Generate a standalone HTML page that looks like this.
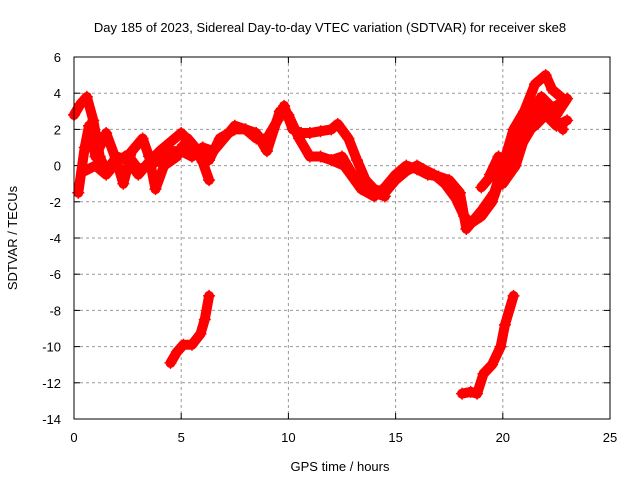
<!DOCTYPE html>
<html><head><meta charset="utf-8"><style>
body{margin:0;background:#fff}
svg text{font-family:"Liberation Sans",sans-serif;font-size:13px;fill:#000}
</style></head><body>
<svg width="640" height="480" viewBox="0 0 640 480">
<text x="330" y="32" text-anchor="middle">Day 185 of 2023, Sidereal Day-to-day VTEC variation (SDTVAR) for receiver ske8</text>
<g id="grid"></g>
<g id="axes"></g>
<g id="series"></g>
<rect x="74" y="57" width="536" height="362" fill="none" stroke="#000"/>
<text x="340" y="471" text-anchor="middle">GPS time / hours</text>
<text transform="translate(17,238) rotate(-90)" text-anchor="middle">SDTVAR / TECUs</text>
</svg>
<script>
const xTicks=[0,5,10,15,20,25];
const yTicks=[6,4,2,0,-2,-4,-6,-8,-10,-12,-14];
const track1H=[0,0.3,0.6,0.9,1.2,1.5,2,2.5,3,3.5,4,4.5,5,5.5,6,6.3];
const track1V=[2.8,3.4,3.8,2.5,0.5,-0.3,0.5,0.3,-0.5,0.2,0.8,1.3,1.8,1.2,0.2,-0.8];
const track2H=[0.2,0.5,0.7,1,1.5,2,2.3,2.7,3.2,3.5,3.8,4.2,4.8,5.3,5.8,6.3,6.8,7.5,8,8.5,9,9.6,10,10.5,11,11.5,12,12.5,13,13.5,14,14.5];
const track2V=[-1.5,1,2.2,0.5,1.8,0.2,-1,0.8,1.5,0.5,-1.3,0,0.5,1.5,0.8,0.3,1.5,2,2,1.8,0.8,3,2.8,1.5,0.5,0.5,0.3,0.5,-0.5,-1.2,-1.5,-1.7];
const track3H=[5,5.5,6,6.5,7,7.5,8,8.5,9,9.5,9.8,10.2,10.6,11,11.5,12,12.3,12.8,13.2,13.6,14,14.5,15,15.5,16,16.3,16.8,17.3,17.8,18.2,18.5,19,19.5,19.8,20.2,20.5];
const track3V=[1,0.5,1,0.8,1.5,2.2,2,1.5,1.5,2.5,3.3,2,1.8,1.8,1.9,2,2.3,1.5,0.3,-0.8,-1.3,-1.5,-0.8,-0.3,0,-0.2,-0.5,-1,-1.8,-2.8,-3.2,-2.8,-2,-1,-0.2,0.8];
const track4H=[12,12.6,13.4,14,14.5,15,15.5,16,16.5,17,17.5,18,18.3,19,19.6,20,20.5,21,21.5,22,22.3,22.8];
const track4V=[0.3,0,-1.3,-1.7,-1.2,-0.5,0,-0.2,-0.5,-0.6,-0.8,-1.5,-3.5,-2.5,-1.5,0,2,3,4.5,5,4.2,3.7];
const track5H=[19.4,19.8,20.2,20.8,21.3,21.7,22.2,22.8];
const track5V=[-0.5,0.5,0,1,2,3.5,3,2];
const track6H=[20,20.6,21,21.5,22,22.5,23];
const track6V=[-1,0,1.5,2.5,3.5,2.8,3.7];
const track7H=[4.5,4.8,5.1,5.5,5.9,6.1,6.3];
const track7V=[-10.9,-10.3,-9.9,-9.9,-9.3,-8.5,-7.2];
const track8H=[18.1,18.5,18.8,19.1,19.5,19.9,20.1,20.5];
const track8V=[-12.6,-12.5,-12.6,-11.5,-11,-10,-8.8,-7.2];
const track9H=[0.5,1,1.5,2,2.5,3,3.5,4,4.5,5,5.5,6];
const track9V=[-0.3,0,-0.5,0.2,0.6,-0.2,0,0.3,0.8,0.8,0.5,1];
const track10H=[19,19.5,20,20.5,21,21.5,22,22.5,23];
const track10V=[-1.2,-0.5,0.3,0.8,1.8,2.2,2.8,2.2,2.5];
const track11H=[20.3,20.8,21.3,21.8,22.3,22.8];
const track11V=[1,2,2.8,3.8,3.2,3.5];
const tracks=[[track1H,track1V],[track2H,track2V],[track3H,track3V],[track4H,track4V],[track5H,track5V],[track6H,track6V],[track7H,track7V],[track8H,track8V],[track9H,track9V],[track10H,track10V],[track11H,track11V]];
const X=h=>74+h*(536/25);
const Y=v=>57+(6-v)*(362/20);
const NS='http://www.w3.org/2000/svg';
function mk(t,a,p){const e=document.createElementNS(NS,t);for(const k in a)e.setAttribute(k,a[k]);p.appendChild(e);return e;}
const grid=document.getElementById('grid'),axes=document.getElementById('axes'),ser=document.getElementById('series');
xTicks.forEach(t=>{const x=X(t);
 if(t>0&&t<25){const l=mk('line',{x1:x,y1:57,x2:x,y2:419,stroke:'#999','stroke-dasharray':'3,3'},grid);
 
 }
 const tx=mk('text',{x:x,y:442,'text-anchor':'middle'},axes);tx.textContent=t;
 
 
 mk('line',{x1:x,y1:419,x2:x,y2:413,stroke:'#000'},axes);mk('line',{x1:x,y1:57,x2:x,y2:63,stroke:'#000'},axes);});
yTicks.forEach(t=>{const y=Y(t);
 if(t<6&&t>-14){const l=mk('line',{x1:74,y1:y,x2:610,y2:y,stroke:'#999','stroke-dasharray':'3,3'},grid);
 
 }
 const tx=mk('text',{x:61,y:y+5,'text-anchor':'end'},axes);tx.textContent=t;
 
 
 mk('line',{x1:74,y1:y,x2:80,y2:y,stroke:'#000'},axes);mk('line',{x1:610,y1:y,x2:604,y2:y,stroke:'#000'},axes);});
tracks.forEach((tr,i)=>{const pts=tr[0].map((h,j)=>X(h)+','+Y(tr[1][j])).join(' ');
 const pl=mk('polyline',{points:pts,fill:'none',stroke:'#f00','stroke-width':10,'stroke-linejoin':'round','stroke-linecap':'round'},ser);
 
 
 tr[0].forEach((h,j)=>{const x=X(h),y=Y(tr[1][j]);
  const p=mk('path',{d:`M${x-6},${y}H${x+6}M${x},${y-6}V${y+6}`,stroke:'#f00','stroke-width':1.5},ser);
  
  });});
</script>
</body></html>
